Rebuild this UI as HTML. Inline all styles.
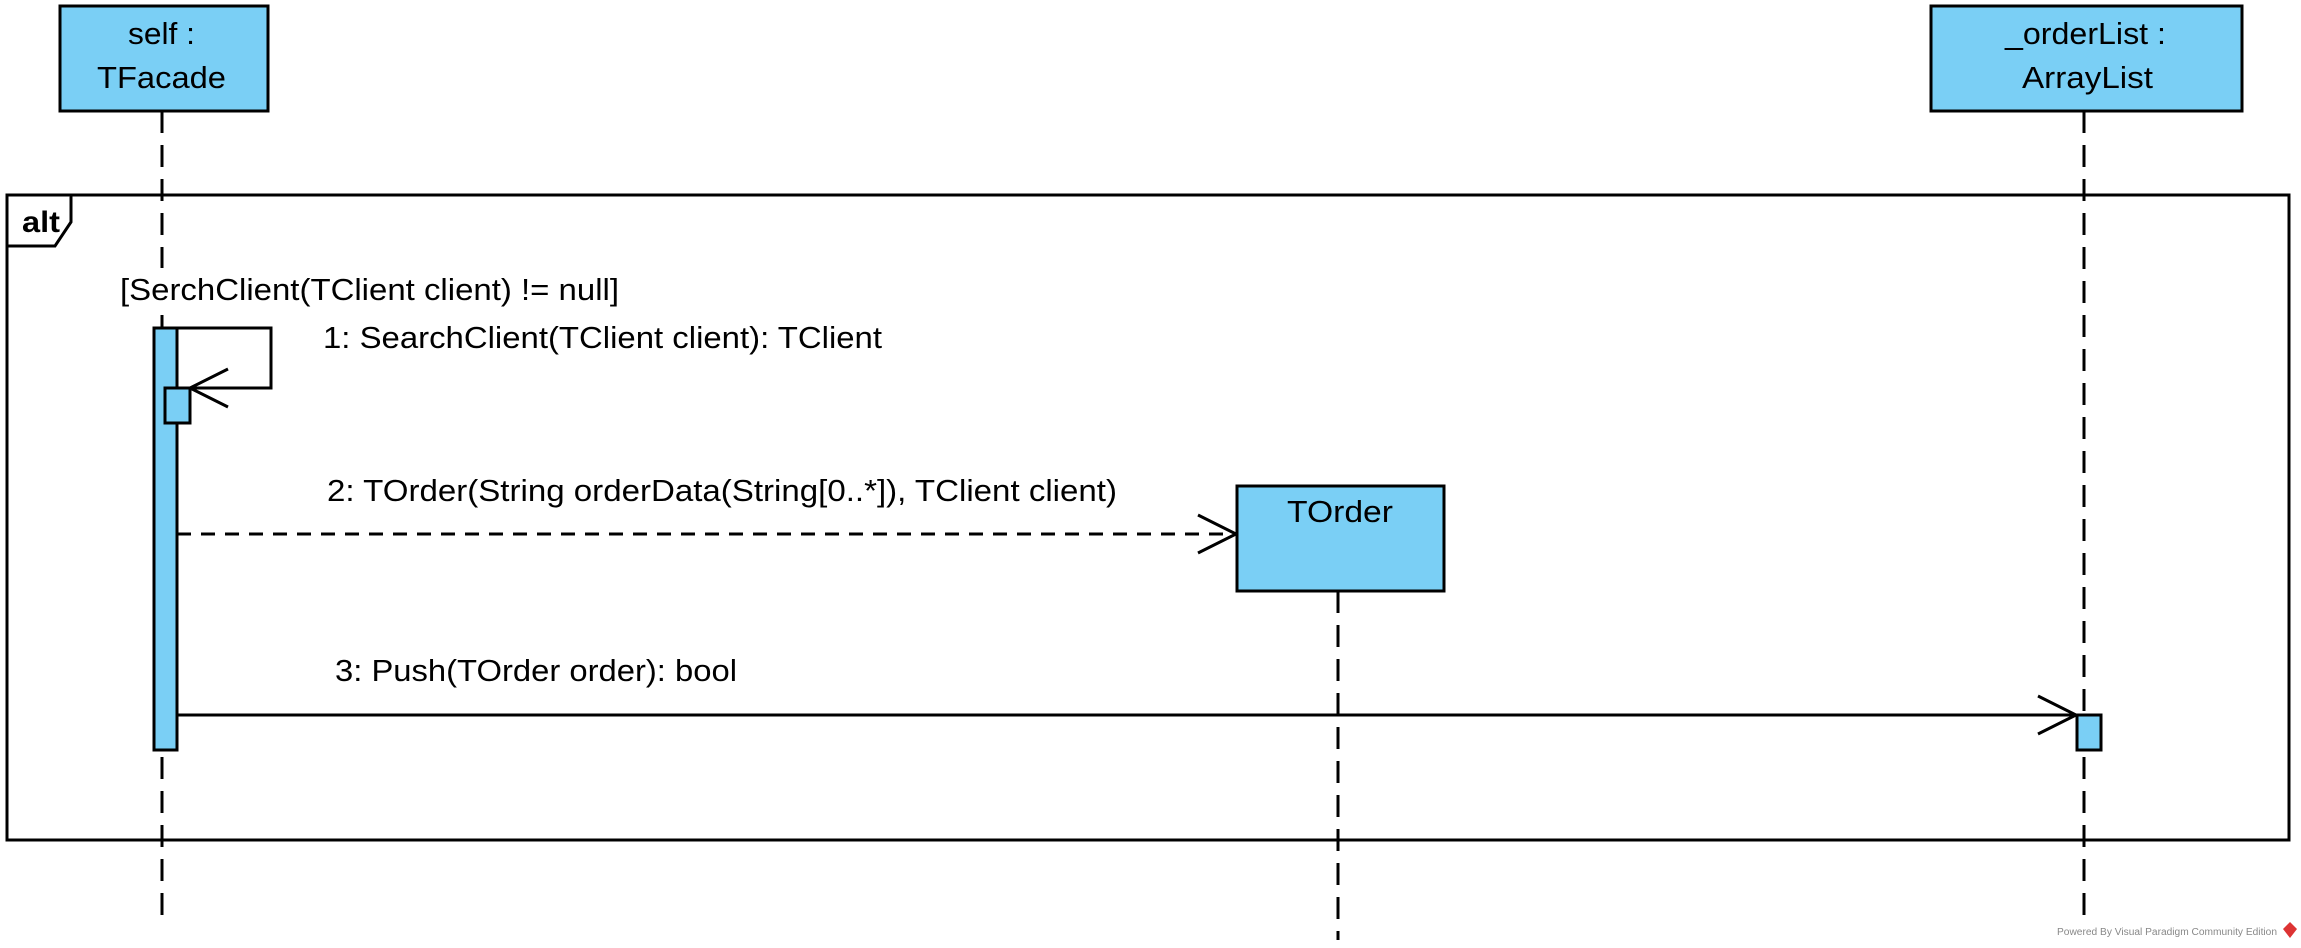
<!DOCTYPE html>
<html><head><meta charset="utf-8"><style>
html,body{margin:0;padding:0;background:#fff;}
svg{display:block;}
text{font-family:"Liberation Sans",Arial,sans-serif;fill:#000;}
</style></head><body>
<svg width="2301" height="948" viewBox="0 0 2301 948" xmlns="http://www.w3.org/2000/svg">
<g stroke="#000" stroke-width="3" stroke-dasharray="22,12" fill="none">
<line x1="162" y1="111" x2="162" y2="927"/>
<line x1="2084" y1="111" x2="2084" y2="927"/>
<line x1="1338" y1="591" x2="1338" y2="940"/>
</g>
<rect x="7" y="195" width="2282" height="645" fill="none" stroke="#000" stroke-width="3"/>
<path d="M7,246 L55,246 L71,222 L71,195" fill="#fff" stroke="#000" stroke-width="3"/>
<text x="22" y="232" font-size="30" font-weight="bold" textLength="38" lengthAdjust="spacingAndGlyphs">alt</text>
<rect x="150" y="268" width="24" height="38" fill="#fff"/>
<text x="120" y="300" font-size="31" textLength="499" lengthAdjust="spacingAndGlyphs">[SerchClient(TClient client) != null]</text>
<rect x="60" y="6" width="208" height="105" fill="#7ACFF5" stroke="#000" stroke-width="3"/>
<text x="128" y="44" font-size="31" textLength="67" lengthAdjust="spacingAndGlyphs">self :</text>
<text x="97" y="88" font-size="31" textLength="129" lengthAdjust="spacingAndGlyphs">TFacade</text>
<rect x="1931" y="6" width="311" height="105" fill="#7ACFF5" stroke="#000" stroke-width="3"/>
<text x="2005" y="44" font-size="31" textLength="161" lengthAdjust="spacingAndGlyphs">_orderList :</text>
<text x="2022" y="88" font-size="31" textLength="131" lengthAdjust="spacingAndGlyphs">ArrayList</text>
<rect x="154" y="328" width="23" height="422" fill="#7ACFF5" stroke="#000" stroke-width="3"/>
<rect x="165" y="388" width="25" height="35" fill="#7ACFF5" stroke="#000" stroke-width="3"/>
<rect x="2077" y="715" width="24" height="35" fill="#7ACFF5" stroke="#000" stroke-width="3"/>
<polyline points="177,328 271,328 271,388 190,388" fill="none" stroke="#000" stroke-width="3"/>
<polyline points="228,369 190,388 228,407" fill="none" stroke="#000" stroke-width="3"/>
<text x="323" y="348" font-size="31" textLength="559" lengthAdjust="spacingAndGlyphs">1: SearchClient(TClient client): TClient</text>
<line x1="177" y1="534" x2="1235" y2="534" stroke="#000" stroke-width="3" stroke-dasharray="14,10"/>
<polyline points="1198,515 1236,534 1198,553" fill="none" stroke="#000" stroke-width="3"/>
<text x="327" y="501" font-size="31" textLength="790" lengthAdjust="spacingAndGlyphs">2: TOrder(String orderData(String[0..*]), TClient client)</text>
<rect x="1237" y="486" width="207" height="105" fill="#7ACFF5" stroke="#000" stroke-width="3"/>
<text x="1287" y="522" font-size="31" textLength="106" lengthAdjust="spacingAndGlyphs">TOrder</text>
<line x1="177" y1="715" x2="2076" y2="715" stroke="#000" stroke-width="3"/>
<polyline points="2038,696 2076,715 2038,734" fill="none" stroke="#000" stroke-width="3"/>
<text x="335" y="681" font-size="31" textLength="402" lengthAdjust="spacingAndGlyphs">3: Push(TOrder order): bool</text>
<text x="2057" y="935" font-size="10" textLength="220" lengthAdjust="spacingAndGlyphs" style="fill:#888">Powered By Visual Paradigm Community Edition</text>
<path d="M2290,922 L2297,929 L2290,938 L2283,929 Z" fill="#d33"/>
</svg>
</body></html>
